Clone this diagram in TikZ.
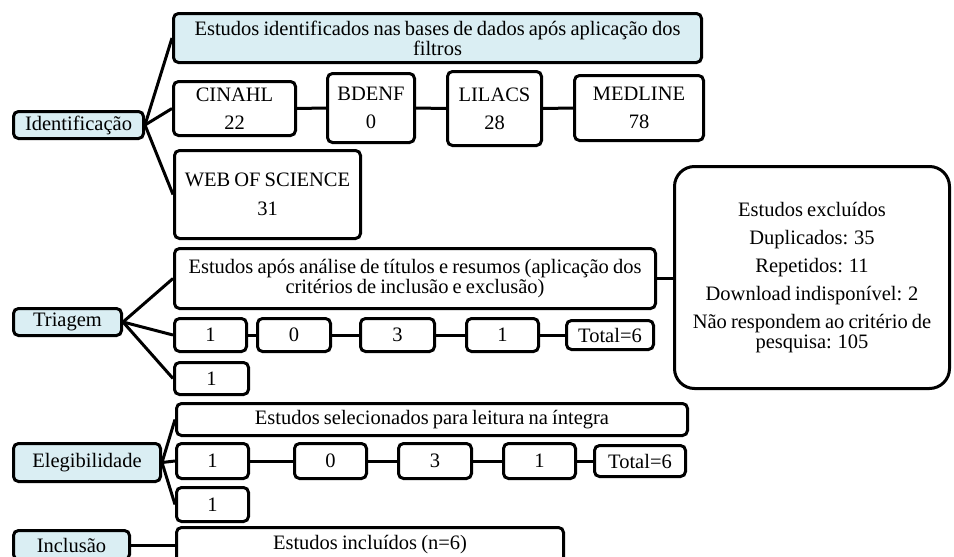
\documentclass[tikz,border=0pt]{standalone}
\usepackage{fontspec}
\setmainfont{Liberation Serif}
\definecolor{lb}{HTML}{DAEEF3}
\newcommand\dfont{\fontsize{20.5}{20}\selectfont\spaceskip=0.2em plus 0.05em minus 0.05em\relax}
\begin{document}
\begin{tikzpicture}[x=1pt,y=-1pt,
 box/.style={draw, line width=3pt, rounded corners=5pt, fill=white, inner sep=0pt, align=center, font=\dfont},
 hd/.style={box, fill=lb},
 con/.style={line width=3pt}]
\clip (0,0) rectangle (954,557);
\fill[white] (0,0) rectangle (954,557);
% Identificacao
\node[hd, minimum width=130, minimum height=27] (ident) at (78.5,125) {Identificação};
\node[hd, minimum width=528, minimum height=49] (top) at (437.5,38) {Estudos identificados nas bases de dados após aplicação dos\\filtros};
\node[box, minimum width=122, minimum height=54] (cinahl) at (234.5,108.5) {CINAHL\\[8pt]22};
\node[box, minimum width=87, minimum height=69] (bdenf) at (371,108) {BDENF\\[8pt]0};
\node[box, minimum width=94, minimum height=74] (lilacs) at (494.5,108.5) {LILACS\\[8pt]28};
\node[box, minimum width=129, minimum height=65] (medline) at (639,108) {MEDLINE\\[8pt]78};
\node[box, minimum width=186, minimum height=88] (web) at (267.5,194.5) {WEB OF SCIENCE\\[9pt]31};
\draw[con] (ident.east) -- (top.west);
\draw[con] (ident.east) -- (cinahl.west);
\draw[con] (ident.east) -- (web.west);
\draw[con] (cinahl.east) -- (bdenf.west);
\draw[con] (bdenf.east) -- (lilacs.west);
\draw[con] (lilacs.east) -- (medline.west);
% Excluded
\node[box, rounded corners=20pt, minimum width=275, minimum height=222] (excl) at (812,277.5) {Estudos excluídos\\[8pt]Duplicados: 35\\[8pt]Repetidos: 11\\[8pt]Download indisponível: 2\\[8pt]Não respondem ao critério de\\pesquisa: 105};
% Triagem
\node[hd, minimum width=108, minimum height=27] (tri) at (67.5,322) {Triagem};
\node[box, minimum width=481, minimum height=60] (ttop) at (415,278.5) {Estudos após análise de títulos e resumos (aplicação dos\\critérios de inclusão e exclusão)};
\node[box, minimum width=72, minimum height=33] (t1) at (210.5,335) {1};
\node[box, minimum width=73, minimum height=33] (t2) at (294,335) {0};
\node[box, minimum width=74, minimum height=33] (t3) at (397.5,335) {3};
\node[box, minimum width=72, minimum height=33] (t4) at (502.5,335) {1};
\node[box, minimum width=87, minimum height=29] (ttot) at (610,335) {Total=6};
\node[box, minimum width=74, minimum height=32] (t5) at (211.5,378.5) {1};
\draw[con] (tri.east) -- (ttop.west);
\draw[con] (tri.east) -- (t1.west);
\draw[con] (tri.east) -- (t5.west);
\draw[con] (t1.east) -- (t2.west);
\draw[con] (t2.east) -- (t3.west);
\draw[con] (t3.east) -- (t4.west);
\draw[con] (t4.east) -- (ttot.west);
\draw[con] (ttop.east) -- (excl.west |- ttop.east);
% Elegibilidade
\node[hd, minimum width=147, minimum height=38] (ele) at (87,462.5) {Elegibilidade};
\node[box, minimum width=511, minimum height=32] (etop) at (432,419.5) {Estudos selecionados para leitura na íntegra};
\node[box, minimum width=72, minimum height=35] (e1) at (212.5,461) {1};
\node[box, minimum width=72, minimum height=35] (e2) at (330.5,461) {0};
\node[box, minimum width=73, minimum height=35] (e3) at (435,461) {3};
\node[box, minimum width=72, minimum height=35] (e4) at (539.5,461) {1};
\node[box, minimum width=91, minimum height=31] (etot) at (640,461) {Total=6};
\node[box, minimum width=72, minimum height=34] (e5) at (212.5,504.5) {1};
\draw[con] (ele.east) -- (etop.west);
\draw[con] (ele.east) -- (e1.west);
\draw[con] (ele.east) -- (e5.west);
\draw[con] (e1.east) -- (e2.west);
\draw[con] (e2.east) -- (e3.west);
\draw[con] (e3.east) -- (e4.west);
\draw[con] (e4.east) -- (etot.west);
% Inclusao
\node[hd, minimum width=116, minimum height=29] (inc) at (71.5,545) {Inclusão};
\node[box, minimum width=387, minimum height=35] (itop) at (370,545) {Estudos incluídos (n=6)};
\draw[con] (inc.east) -- (itop.west);
\end{tikzpicture}
\end{document}
